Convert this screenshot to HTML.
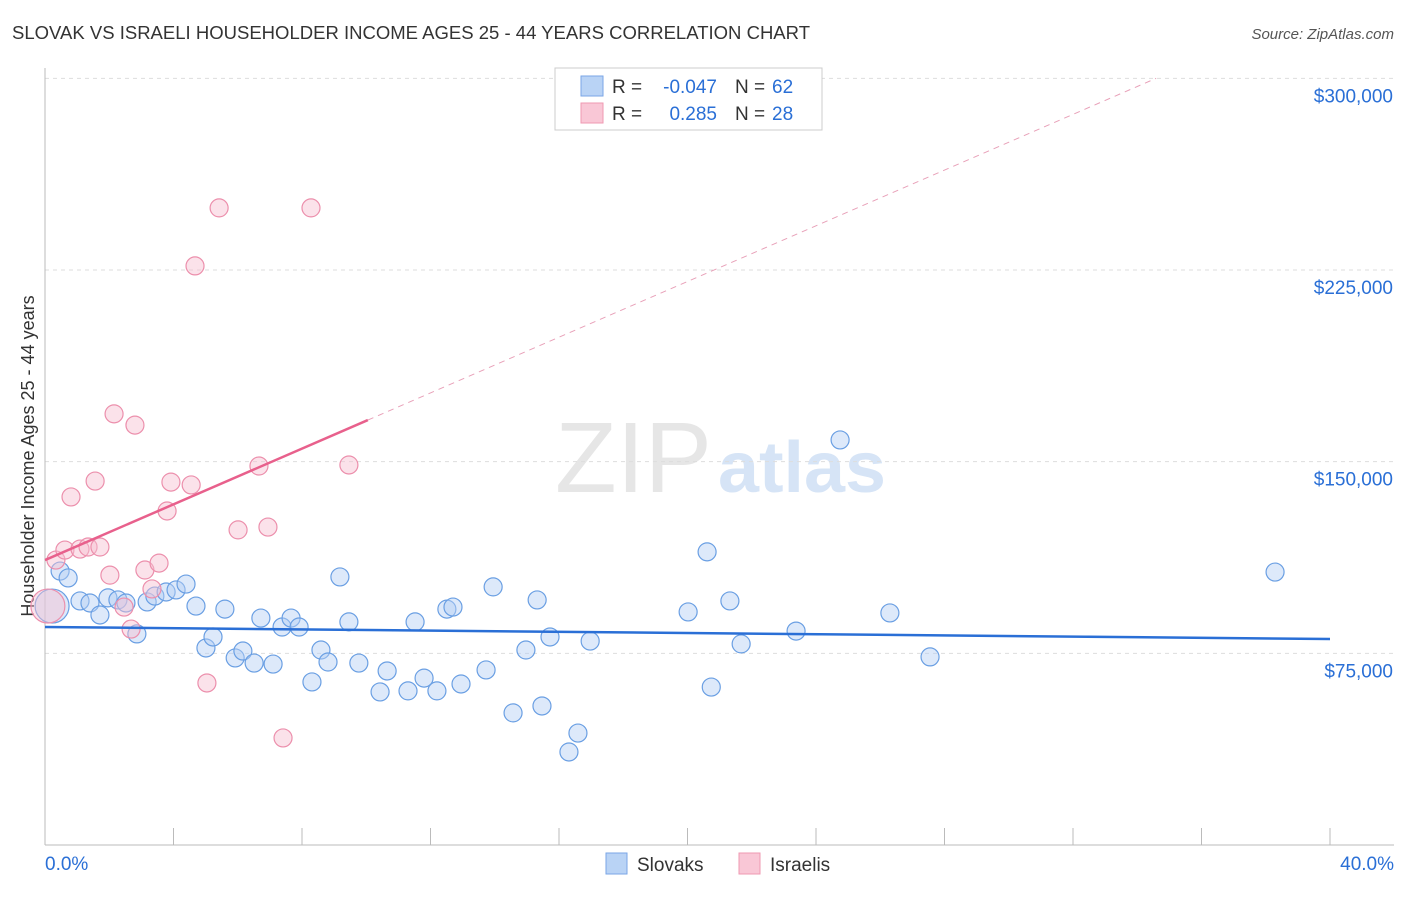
<!DOCTYPE html>
<html><head><meta charset="utf-8"><style>
body{margin:0;background:#fff;font-family:"Liberation Sans",sans-serif}
svg text{font-family:"Liberation Sans",sans-serif}
</style></head><body>
<svg id="c" width="1406" height="892">
<text x="12" y="39" font-size="18" fill="#333" textLength="798" lengthAdjust="spacingAndGlyphs">SLOVAK VS ISRAELI HOUSEHOLDER INCOME AGES 25 - 44 YEARS CORRELATION CHART</text>
<text x="1394" y="39" font-size="15" fill="#555" text-anchor="end" font-style="italic">Source: ZipAtlas.com</text>
<text x="555" y="492" font-size="100" fill="#e6e6e6" textLength="157" lengthAdjust="spacingAndGlyphs" font-family="Liberation Serif">ZIP</text>
<text x="718" y="492" font-size="72" fill="#d6e4f6" font-weight="bold" textLength="168" lengthAdjust="spacingAndGlyphs">atlas</text>
<text transform="translate(34,456) rotate(-90)" font-size="18" fill="#333" text-anchor="middle">Householder Income Ages 25 - 44 years</text>
<g id="grid"></g><g id="marks"></g>
<g>
<rect x="555" y="68" width="267" height="62" fill="#fff" stroke="#ccc"/>
<rect x="581" y="76" width="22" height="20" fill="#b9d3f5" stroke="#7aa6e6"/>
<rect x="581" y="103" width="22" height="20" fill="#f9c7d6" stroke="#ef98b2"/>
<text x="612" y="93" font-size="19" fill="#333">R =</text>
<text x="717" y="93" font-size="19" fill="#2a6fd6" text-anchor="end">-0.047</text>
<text x="735" y="93" font-size="19" fill="#333">N =</text>
<text x="772" y="93" font-size="19" fill="#2a6fd6">62</text>
<text x="612" y="120" font-size="19" fill="#333">R =</text>
<text x="717" y="120" font-size="19" fill="#2a6fd6" text-anchor="end">0.285</text>
<text x="735" y="120" font-size="19" fill="#333">N =</text>
<text x="772" y="120" font-size="19" fill="#2a6fd6">28</text>
</g>
<g>
<rect x="606" y="853" width="21" height="21" fill="#b9d3f5" stroke="#7aa6e6"/>
<text x="637" y="871" font-size="19" fill="#333">Slovaks</text>
<rect x="739" y="853" width="21" height="21" fill="#f9c7d6" stroke="#ef98b2"/>
<text x="770" y="871" font-size="19" fill="#333">Israelis</text>
</g>
</svg>
<script>
const blueX=[0.22,0.47,0.72,1.09,1.40,1.71,1.96,2.27,2.52,2.86,3.18,3.42,3.77,4.08,4.39,4.70,5.01,5.23,5.60,5.92,6.16,6.51,6.72,7.10,7.38,7.66,7.91,8.31,8.59,8.81,9.18,9.46,9.77,10.43,10.65,11.30,11.52,11.80,12.20,12.51,12.70,12.95,13.73,13.95,14.57,14.97,15.32,15.47,15.72,16.31,16.59,16.97,20.02,20.61,20.74,21.32,21.67,23.38,24.75,26.30,27.55,38.29];
const blueY=[93.5,107.2,104.5,95.5,94.7,90.0,96.7,95.9,94.7,82.6,95.1,97.4,99.0,99.8,102.1,93.5,77.1,81.4,92.3,73.2,75.9,71.2,88.8,70.8,85.3,88.8,85.3,63.8,76.3,71.6,104.9,87.3,71.2,59.9,68.1,60.3,87.3,65.3,60.3,92.3,93.1,63.0,68.5,101.0,51.7,76.3,95.9,54.4,81.4,36.4,43.8,79.8,91.2,114.7,61.8,95.5,78.7,83.7,158.5,90.8,73.6,106.8];
const pinkX=[0.09,0.34,0.62,0.81,1.09,1.34,1.56,1.71,2.02,2.15,2.46,2.68,2.80,3.11,3.33,3.55,3.80,3.92,4.55,4.67,5.04,5.42,6.01,6.66,6.94,7.41,8.28,9.46];
const pinkY=[93.5,111.5,115.4,136.2,115.8,116.6,142.4,116.6,105.6,168.7,93.1,84.5,164.3,107.6,100.2,110.3,130.7,142.0,140.9,226.6,63.4,249.3,123.3,148.3,124.4,41.9,249.3,148.7];
const blueFit=[85.3,80.6];
const pinkFit=[111.5,5.45];
const yTicks=[75,150,225,300];
const xTicks=[0,4,8,12,16,20,24,28,32,36,40];
const NS="http://www.w3.org/2000/svg";
const X=v=>45+v/40*1285, Y=v=>845-v/75*191.67;
function mk(t,a,p){const e=document.createElementNS(NS,t);for(const k in a)e.setAttribute(k,a[k]);p.appendChild(e);return e;}
const g=document.getElementById('grid'),m=document.getElementById('marks');
yTicks.forEach(v=>{const l=mk('line',{x1:45,x2:1394,y1:Y(v),y2:Y(v),stroke:'#ddd','stroke-dasharray':'4,4'},g);


const t=mk('text',{x:1393,y:Y(v)+24,'font-size':19,fill:'#2a6fd6','text-anchor':'end'},g);t.textContent='$'+(v*1000).toLocaleString('en-US');

});
const ax=mk('line',{x1:45,x2:45,y1:68,y2:845,stroke:'#bbb'},g);


const bx=mk('line',{x1:45,x2:1394,y1:845,y2:845,stroke:'#bbb'},g);


xTicks.forEach(v=>{const l=mk('line',{x1:X(v),x2:X(v),y1:828,y2:845,stroke:'#bbb'},g);

});
[[0,'start',45],[40,'end',1394]].forEach(([v,a,x])=>{const t=mk('text',{x:x,y:870,'font-size':19,fill:'#2a6fd6','text-anchor':a},g);t.textContent=v.toFixed(1)+'%';

});
function pts(xs,ys,f,s,name){xs.forEach((x,i)=>{const r=(i===0)?17:9;const c=mk('circle',{cx:X(x),cy:Y(ys[i]),r:r,fill:f,'fill-opacity':0.45,stroke:s,'stroke-width':1.2},m);

});}
pts(blueX,blueY,'#b3cff3','#6a9fe3','slovak-point');
pts(pinkX,pinkY,'#f7bfd0','#ec8fac','israeli-point');
const bl=mk('line',{x1:X(0),y1:Y(blueFit[0]),x2:X(40),y2:Y(blueFit[1]),stroke:'#2a6fd6','stroke-width':2.5},m);


const pe=10.05,pd=(300-pinkFit[0])/pinkFit[1];
const pl=mk('line',{x1:X(0),y1:Y(pinkFit[0]),x2:X(pe),y2:Y(pinkFit[0]+pinkFit[1]*pe),stroke:'#e8608c','stroke-width':2.5},m);


const pdl=mk('line',{x1:X(pe),y1:Y(pinkFit[0]+pinkFit[1]*pe),x2:X(pd),y2:Y(300),stroke:'#e8a0b8','stroke-width':1,'stroke-dasharray':'6,5'},m);


</script>
</body></html>
